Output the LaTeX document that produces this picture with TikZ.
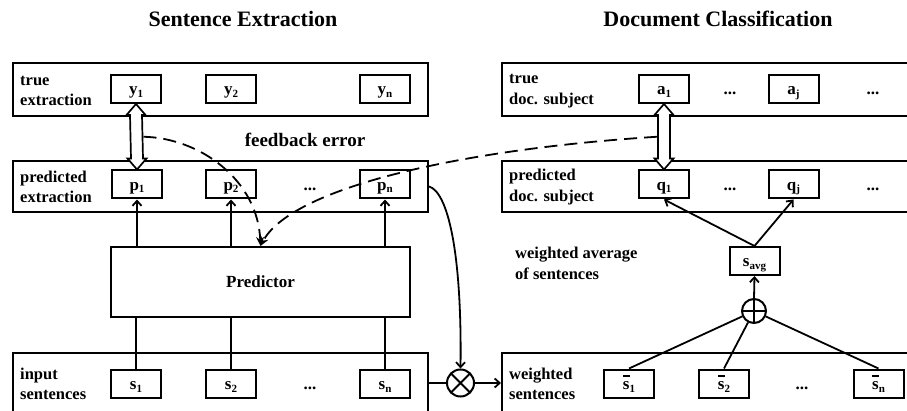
\documentclass[tikz,border=0pt]{standalone}
\usepackage{fontspec}
\setmainfont{Liberation Serif}
\usetikzlibrary{arrows.meta,calc}
\newcommand\sbs[1]{\raisebox{-2.5pt}{\fontsize{11}{11}\selectfont #1}}
\newcommand\sbar{\rlap{\hspace{0.3pt}\raisebox{12.5pt}{\rule{6.5pt}{1.7pt}}}s}
\newcommand\dblarrow[2]{%
  \filldraw[fill=white, line width=1.7pt, line join=miter]
    (#1) -- ++(9.5,11) -- ++(-3.5,0) -- ($(#2)+(6,-11)$) -- ++(3.5,0) -- (#2)
    -- ++(-9.5,-11) -- ++(3.5,0) -- ($(#1)+(-6,11)$) -- ++(-3.5,0) -- cycle;}
\tikzset{
  rowbox/.style={draw, line width=2pt, anchor=north west, inner sep=0pt},
  sbox/.style={draw, line width=2pt, minimum width=50pt, minimum height=28pt,
    inner sep=0pt, text height=12pt, text depth=0pt,
    font=\fontsize{17}{17}\selectfont\bfseries},
  dotsnode/.style={inner sep=0pt, text height=12pt, text depth=0pt,
    font=\fontsize{17}{17}\selectfont\bfseries},
  rowlabel/.style={anchor=west, align=left, inner sep=0pt,
    font=\fontsize{16.5}{20.5}\selectfont\bfseries},
  titlenode/.style={inner sep=0pt, font=\fontsize{22}{22}\selectfont\bfseries},
  conn/.style={line width=1.8pt},
  arr/.style={line width=1.8pt, -{Straight Barb[length=5pt,width=9pt]}},
  fbarrow/.style={line width=1.8pt, dash pattern=on 13pt off 7pt,
    -{Stealth[length=9pt,width=8pt]}},
  otimes/.style={circle, draw, line width=2pt, minimum size=27pt, inner sep=0pt,
    path picture={\draw[line width=2pt]
      (path picture bounding box.north west) -- (path picture bounding box.south east)
      (path picture bounding box.north east) -- (path picture bounding box.south west);}},
  oplus/.style={circle, draw, line width=2pt, minimum size=24pt, inner sep=0pt,
    path picture={\draw[line width=2pt]
      (path picture bounding box.north) -- (path picture bounding box.south)
      (path picture bounding box.west) -- (path picture bounding box.east);}},
}
\begin{document}
\begin{tikzpicture}[x=1pt, y=-1pt]
\clip (0,0) rectangle (907,411);
\fill[white] (0,0) rectangle (907,411);

% titles
\node[titlenode] (t1) at (243,19) {Sentence Extraction};
\node[titlenode] (t2) at (718,19) {Document Classification};

% left row boxes
\node[rowbox, minimum width=415pt, minimum height=53pt] (rA) at (12,62) {};
\node[rowbox, minimum width=415pt, minimum height=51pt] (rB) at (12,160) {};
\node[rowbox, minimum width=415pt, minimum height=62pt] (rC) at (12,352) {};
% right row boxes
\node[rowbox, minimum width=424pt, minimum height=53pt] (rAR) at (501,62) {};
\node[rowbox, minimum width=424pt, minimum height=51pt] (rBR) at (501,160) {};
\node[rowbox, minimum width=424pt, minimum height=62pt] (rCR) at (501,352) {};

% row labels
\node[rowlabel] (lA) at (20,91) {true\\extraction};
\node[rowlabel] (lB) at (20,187) {predicted\\extraction};
\node[rowlabel] (lC) at (20,384) {input\\sentences};
\node[rowlabel] (lAR) at (509,91) {true\\doc. subject};
\node[rowlabel] (lBR) at (509,187) {predicted\\doc. subject};
\node[rowlabel] (lCR) at (509,384) {weighted\\sentences};

% small boxes left
\node[sbox] (y1) at (136,89) {y\sbs{1}};
\node[sbox] (y2) at (231,89) {y\sbs{2}};
\node[sbox] (yn) at (385,89) {y\sbs{n}};
\node[sbox] (p1) at (137,184.5) {p\sbs{1}};
\node[sbox] (p2) at (231,184.5) {p\sbs{2}};
\node[sbox] (pn) at (385,184.5) {p\sbs{n}};
\node[dotsnode] (dB) at (310,184.5) {...};
\node[sbox] (s1) at (136,383.5) {s\sbs{1}};
\node[sbox] (s2) at (231,383.5) {s\sbs{2}};
\node[sbox] (sn) at (385,383.5) {s\sbs{n}};
\node[dotsnode] (dC) at (310,383.5) {...};

% small boxes right
\node[sbox] (a1) at (664,89) {a\sbs{1}};
\node[dotsnode] (dA1) at (730,89) {...};
\node[sbox] (aj) at (793.5,89) {a\sbs{j}};
\node[dotsnode] (dA2) at (873,89) {...};
\node[sbox] (q1) at (664,184.5) {q\sbs{1}};
\node[dotsnode] (dB1) at (730,184.5) {...};
\node[sbox] (qj) at (793.5,184.5) {q\sbs{j}};
\node[dotsnode] (dB2) at (873,184.5) {...};
\node[sbox] (sb1) at (629,383.5) {\sbar\sbs{1}};
\node[sbox] (sb2) at (724,383.5) {\sbar\sbs{2}};
\node[dotsnode] (dC1) at (802,383.5) {...};
\node[sbox] (sbn) at (878.5,383.5) {\sbar\sbs{n}};

% predictor
\node[draw, line width=2pt, minimum width=299pt, minimum height=70pt,
  font=\fontsize{17}{17}\selectfont\bfseries] (pred) at (260.5,282) {Predictor};

% s_avg and operators
\node[sbox] (savg) at (754.5,261) {s\sbs{avg}};
\node[oplus] (plus) at (754,311) {};
\node[otimes] (mul) at (460.5,383) {};

% texts
\node[inner sep=0pt, font=\fontsize{19}{19}\selectfont\bfseries] (fb) at (305,140) {feedback error};
\node[rowlabel] (wa) at (515,263.5) {weighted average\\of sentences};

% double arrows
\dblarrow{y1.south}{p1.north}
\dblarrow{a1.south}{q1.north}

% predictor connections
\foreach \p in {p1,p2,pn} \draw[arr] (\p |- pred.north) -- (\p.south);
\foreach \s in {s1,s2,sn} \draw[conn] (\s.north) -- (\s |- pred.south);

% feedback dashed arrows
\coordinate (fbL) at ($(y1.south)!0.5!(p1.north)+(7,0)$);
\coordinate (fbR) at ($(a1.south)!0.5!(q1.north)+(-7,0)$);
\draw[fbarrow] (fbL) .. controls (200,138) and (258,180) .. (pred.north);
\draw[fbarrow] (fbR) .. controls (450,150) and (290,190) .. (pred.north);

% multiply
\draw[arr] (rB.east) .. controls +(18,5) and +(1.5,-120) .. (mul.north);
\draw[conn] (rC.east |- mul) -- (mul.west);
\draw[arr] (mul.east) -- (mul.east -| rCR.west);

% weighted average
\draw[conn] (plus) -- (sb1.north);
\draw[conn] (plus) -- (sb2.north);
\draw[conn] (plus) -- (sbn.north);
\draw[arr] (plus.north) -- (savg.south);
\draw[arr] (savg.north) -- (q1.south);
\draw[arr] (savg.north) -- (qj.south);
\end{tikzpicture}
\end{document}
